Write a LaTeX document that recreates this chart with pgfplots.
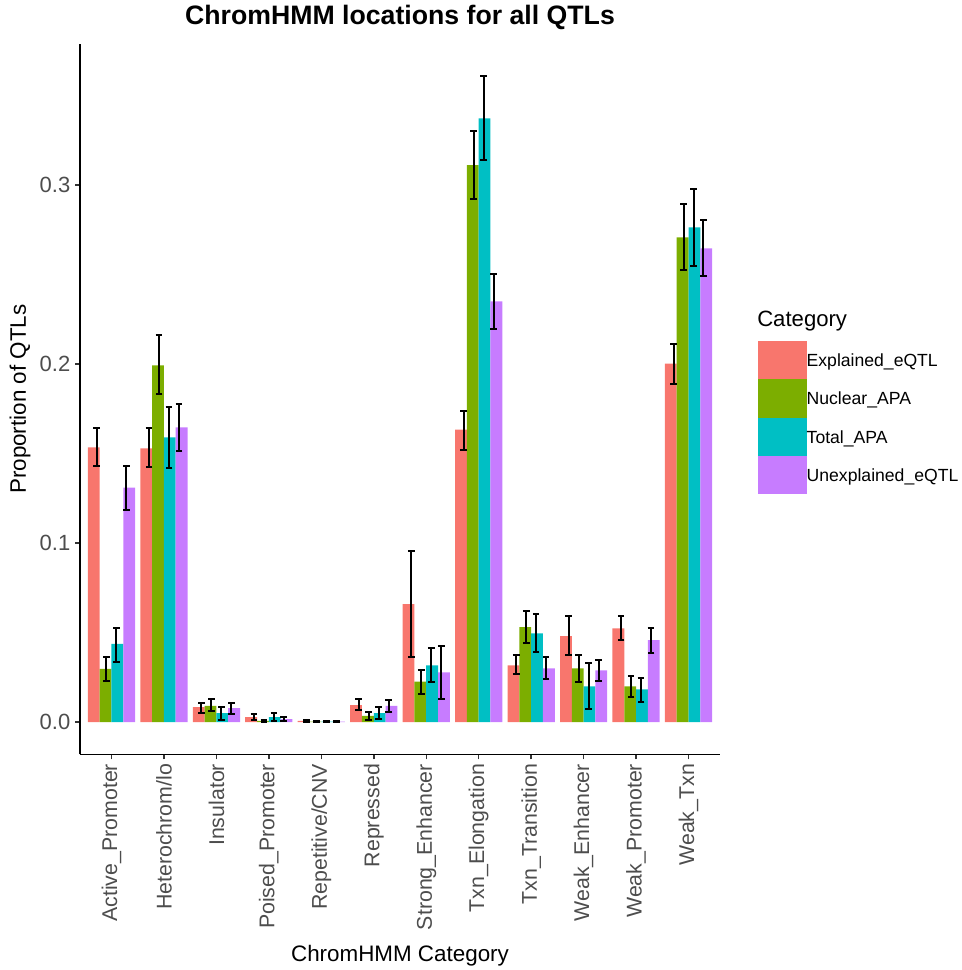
\documentclass[border=0pt]{standalone}
\usepackage{fontspec}
\setmainfont{Liberation Sans}
\usepackage{pgfplots}
\usepackage{pgfplotstable}
\pgfplotsset{compat=1.18}
\definecolor{cE}{HTML}{F8766D}
\definecolor{cN}{HTML}{7CAE00}
\definecolor{cT}{HTML}{00BFC4}
\definecolor{cU}{HTML}{C77CFF}
\definecolor{g30}{HTML}{4D4D4D}
\definecolor{g20}{HTML}{333333}

\pgfplotstableread{
x y lo hi
1 0.1534 0.1429 0.1644
2 0.1528 0.1423 0.1640
3 0.0084 0.0052 0.0108
4 0.0028 0.0013 0.0045
5 0.0006 0.0003 0.0009
6 0.0095 0.0067 0.0127
7 0.0659 0.0366 0.0954
8 0.1633 0.1522 0.1737
9 0.0317 0.0267 0.0372
10 0.0480 0.0372 0.0590
11 0.0524 0.0459 0.0590
12 0.2002 0.1886 0.2114
}\tblE
\pgfplotstableread{
x y lo hi
1 0.0297 0.0229 0.0366
2 0.1992 0.1830 0.2160
3 0.0090 0.0060 0.0127
4 0.0006 0.0001 0.0010
5 0.0003 0.0002 0.0005
6 0.0034 0.0013 0.0058
7 0.0226 0.0159 0.0293
8 0.3110 0.2920 0.3300
9 0.0530 0.0442 0.0623
10 0.0300 0.0222 0.0377
11 0.0200 0.0140 0.0256
12 0.2707 0.2526 0.2894
}\tblN
\pgfplotstableread{
x y lo hi
1 0.0437 0.0338 0.0528
2 0.1590 0.1420 0.1760
3 0.0050 0.0013 0.0082
4 0.0028 0.0006 0.0049
5 0.0003 0.0002 0.0005
6 0.0050 0.0017 0.0082
7 0.0317 0.0226 0.0411
8 0.3372 0.3139 0.3607
9 0.0496 0.0392 0.0601
10 0.0200 0.0071 0.0330
11 0.0183 0.0114 0.0245
12 0.2763 0.2547 0.2976
}\tblT
\pgfplotstableread{
x y lo hi
1 0.1310 0.1187 0.1430
2 0.1646 0.1513 0.1774
3 0.0078 0.0045 0.0108
4 0.0017 0.0007 0.0028
5 0.0003 0.0002 0.0005
6 0.0090 0.0058 0.0125
7 0.0278 0.0127 0.0424
8 0.2349 0.2198 0.2500
9 0.0300 0.0239 0.0364
10 0.0289 0.0228 0.0349
11 0.0457 0.0383 0.0526
12 0.2646 0.2489 0.2806
}\tblU

\pgfplotsset{
  sq/.style={legend image code/.code={
    \fill[##1] (0pt,-13.3pt) rectangle (27pt,13.3pt);
    \path (0pt,-14.35pt) rectangle (36.5pt,14.35pt);}},
  eb/.style={forget plot, draw=none, mark=none,
    error bars/.cd, y dir=both, y explicit, error mark=-,
    error bar style={draw=black, line width=1.5pt},
    error mark options={rotate=90, draw=black, line width=1.5pt, mark size=2.5pt}},
}

\begin{document}
\begin{tikzpicture}
\begin{axis}[
  at={(60pt,161.775pt)}, anchor=south west,
  scale only axis, width=480pt, height=532.7pt,
  xmin=0.4, xmax=12.6, ymin=-0.018, ymax=0.3787,
  axis x line*=bottom, axis y line*=left,
  axis line style={line width=1.1pt, black, -},
  tick align=outside, major tick length=3.75pt,
  tick style={line width=1.1pt, g20},
  xtick={1,2,3,4,5,6,7,8,9,10,11,12},
  xticklabels={Active\_Promoter, Heterochrom/lo, Insulator, Poised\_Promoter, Repetitive/CNV, Repressed, Strong\_Enhancer, Txn\_Elongation, Txn\_Transition, Weak\_Enhancer, Weak\_Promoter, Weak\_Txn},
  xticklabel style={rotate=90, anchor=east, font=\fontsize{16}{16}\selectfont, text=g30},
  ytick={0,0.1,0.2,0.3},
  yticklabel style={font=\fontsize{16.5}{16.5}\selectfont, text=g30, /pgf/number format/.cd, fixed, fixed zerofill, precision=1, assume math mode=true},
  title={ChromHMM locations for all QTLs},
  every axis title shift=0pt,
  title style={font=\fontsize{20}{20}\selectfont\bfseries, at={(0.5,1.0373)}, anchor=center},
  xlabel={ChromHMM Category},
  xlabel style={font=\fontsize{16.8}{16.8}\selectfont, at={(0.5,-0.283)}, anchor=center},
  ylabel={Proportion of QTLs},
  ylabel style={font=\fontsize{16.8}{16.8}\selectfont, at={(-0.09375,0.5)}, anchor=center, rotate=0},
  legend style={at={(1.0594,0.5819)}, anchor=north west, draw=none, fill=none,
    inner sep=0pt, outer sep=0pt, row sep=0pt,
    font=\fontsize{13.2}{13.2}\selectfont,
    nodes={inner sep=0pt, text depth=0pt}},
  legend cell align=left,
  clip=false,
]
\addplot[ybar, bar width=0.225, bar shift=-0.3375, fill=cE, draw=none, sq] table[x=x,y=y]{\tblE};
\addplot[ybar, bar width=0.225, bar shift=-0.1125, fill=cN, draw=none, sq] table[x=x,y=y]{\tblN};
\addplot[ybar, bar width=0.225, bar shift=0.1125, fill=cT, draw=none, sq] table[x=x,y=y]{\tblT};
\addplot[ybar, bar width=0.225, bar shift=0.3375, fill=cU, draw=none, sq] table[x=x,y=y]{\tblU};
\legend{Explained\_eQTL, Nuclear\_APA, Total\_APA, Unexplained\_eQTL}
\addplot[eb] table[x expr=\thisrow{x}-0.285, y=y, y error plus expr=\thisrow{hi}-\thisrow{y}, y error minus expr=\thisrow{y}-\thisrow{lo}]{\tblE};
\addplot[eb] table[x expr=\thisrow{x}-0.095, y=y, y error plus expr=\thisrow{hi}-\thisrow{y}, y error minus expr=\thisrow{y}-\thisrow{lo}]{\tblN};
\addplot[eb] table[x expr=\thisrow{x}+0.095, y=y, y error plus expr=\thisrow{hi}-\thisrow{y}, y error minus expr=\thisrow{y}-\thisrow{lo}]{\tblT};
\addplot[eb] table[x expr=\thisrow{x}+0.285, y=y, y error plus expr=\thisrow{hi}-\thisrow{y}, y error minus expr=\thisrow{y}-\thisrow{lo}]{\tblU};
\node[anchor=base west, inner sep=0pt, font=\fontsize{16.6}{16.6}\selectfont] at (axis description cs:1.0578,0.603) {Category};
\end{axis}
\pgfresetboundingbox
\path[use as bounding box] (0,0) rectangle (720.75pt,727.5pt);
\end{tikzpicture}
\end{document}
